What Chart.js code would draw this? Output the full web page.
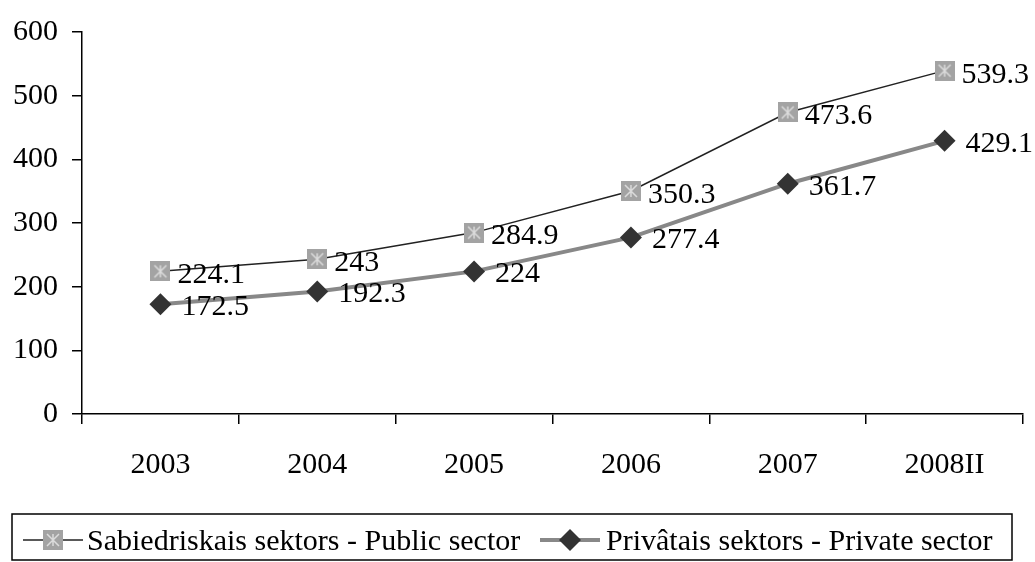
<!DOCTYPE html>
<html>
<head>
<meta charset="utf-8">
<title>Sabiedriskais / Privātais sektors</title>
<script src="https://cdn.jsdelivr.net/npm/chart.js@4/dist/chart.umd.min.js"></script>
<style>
  body { margin: 0; background: #fff; }
  canvas { display: block; }
</style>
</head>
<body>
<canvas id="chart" width="1035" height="562"></canvas>
<script>
// data
const years = ["2003", "2004", "2005", "2006", "2007", "2008II"];
const publicSector = [224.1, 243, 284.9, 350.3, 473.6, 539.3];
const privateSector = [172.5, 192.3, 224, 277.4, 361.7, 429.1];
const seriesNames = ["Sabiedriskais sektors - Public sector", "Privâtais sektors - Private sector"];
const yMin = 0, yMax = 600, yStep = 100;

const FONT = "'Liberation Serif', 'Times New Roman', serif";

// grey square marker with a light asterisk on it
function makeSquare(size) {
  const c = document.createElement("canvas");
  c.width = size; c.height = size;
  const g = c.getContext("2d");
  g.fillStyle = "#a3a3a3";
  g.fillRect(0, 0, size, size);
  g.strokeStyle = "#dcdcdc";
  g.lineWidth = 1.5;
  const m = size / 2, p = 4;
  g.beginPath();
  g.moveTo(m, p); g.lineTo(m, size - p);
  g.moveTo(p, p); g.lineTo(size - p, size - p);
  g.moveTo(size - p, p); g.lineTo(p, size - p);
  g.stroke();
  return c;
}
const squareImg = makeSquare(20);

// values next to the points
const valueLabels = {
  id: "valueLabels",
  afterDatasetsDraw(chart) {
    const ctx = chart.ctx;
    ctx.save();
    ctx.font = "30px " + FONT;
    ctx.fillStyle = "#000";
    ctx.textAlign = "left";
    ctx.textBaseline = "middle";
    chart.data.datasets.forEach(function (ds, i) {
      const meta = chart.getDatasetMeta(i);
      meta.data.forEach(function (pt, j) {
        const dx = i === 0 ? 17 : 21;
        const dy = i === 0 ? 4 : 3;
        ctx.fillText(String(ds.data[j]), pt.x + dx, pt.y + dy);
      });
    });
    ctx.restore();
  }
};

// boxed legend at the bottom, line + marker + text
const boxLegend = {
  id: "boxLegend",
  afterDraw(chart) {
    const ctx = chart.ctx;
    ctx.save();
    ctx.strokeStyle = "#000";
    ctx.lineWidth = 1.5;
    ctx.strokeRect(12, 514, 1000, 46);
    const cy = 540;
    const items = [
      { x0: 23, x1: 83, text: 87, color: "#222", width: 1.5 },
      { x0: 540, x1: 600, text: 606, color: "#888", width: 4 }
    ];
    ctx.font = "30px " + FONT;
    ctx.textBaseline = "middle";
    items.forEach(function (it, i) {
      ctx.strokeStyle = it.color;
      ctx.lineWidth = it.width;
      ctx.beginPath();
      ctx.moveTo(it.x0, cy);
      ctx.lineTo(it.x1, cy);
      ctx.stroke();
      const mx = (it.x0 + it.x1) / 2;
      if (i === 0) {
        ctx.drawImage(squareImg, mx - 10, cy - 10);
      } else {
        ctx.fillStyle = "#333";
        ctx.beginPath();
        ctx.moveTo(mx - 11, cy);
        ctx.lineTo(mx, cy - 11);
        ctx.lineTo(mx + 11, cy);
        ctx.lineTo(mx, cy + 11);
        ctx.closePath();
        ctx.fill();
      }
      ctx.fillStyle = "#000";
      ctx.fillText(seriesNames[i], it.text, cy + 2);
    });
    ctx.restore();
  }
};

const ctx = document.getElementById("chart").getContext("2d");
new Chart(ctx, {
  type: "line",
  data: {
    labels: years,
    datasets: [
      {
        label: seriesNames[0],
        data: publicSector,
        borderColor: "#222",
        borderWidth: 1.5,
        pointStyle: squareImg,
        pointRadius: 10,
        tension: 0
      },
      {
        label: seriesNames[1],
        data: privateSector,
        borderColor: "#888",
        borderWidth: 4,
        pointStyle: "rectRot",
        pointRadius: 11,
        pointBackgroundColor: "#333",
        pointBorderColor: "#333",
        pointBorderWidth: 0,
        tension: 0
      }
    ]
  },
  options: {
    responsive: false,
    devicePixelRatio: 1,
    animation: false,
    layout: { padding: { top: 24, right: 12, bottom: 80, left: 0 } },
    plugins: {
      legend: { display: false },
      tooltip: { enabled: false }
    },
    scales: {
      x: {
        offset: true,
        grid: { offset: true, drawOnChartArea: false, tickLength: 10, color: "#000", lineWidth: 1.5 },
        border: { color: "#000", width: 1.5 },
        ticks: { color: "#000", font: { family: FONT, size: 30 }, padding: 23, maxRotation: 0 },
        afterFit(scale) { scale.height = 68; }
      },
      y: {
        min: yMin,
        max: yMax,
        grid: { drawOnChartArea: false, tickLength: 10, color: "#000", lineWidth: 1.5 },
        border: { color: "#000", width: 1.5 },
        ticks: { stepSize: yStep, color: "#000", font: { family: FONT, size: 30 }, padding: 14 },
        afterFit(scale) { scale.width = 82; }
      }
    }
  },
  plugins: [valueLabels, boxLegend]
});
</script>
</body>
</html>
